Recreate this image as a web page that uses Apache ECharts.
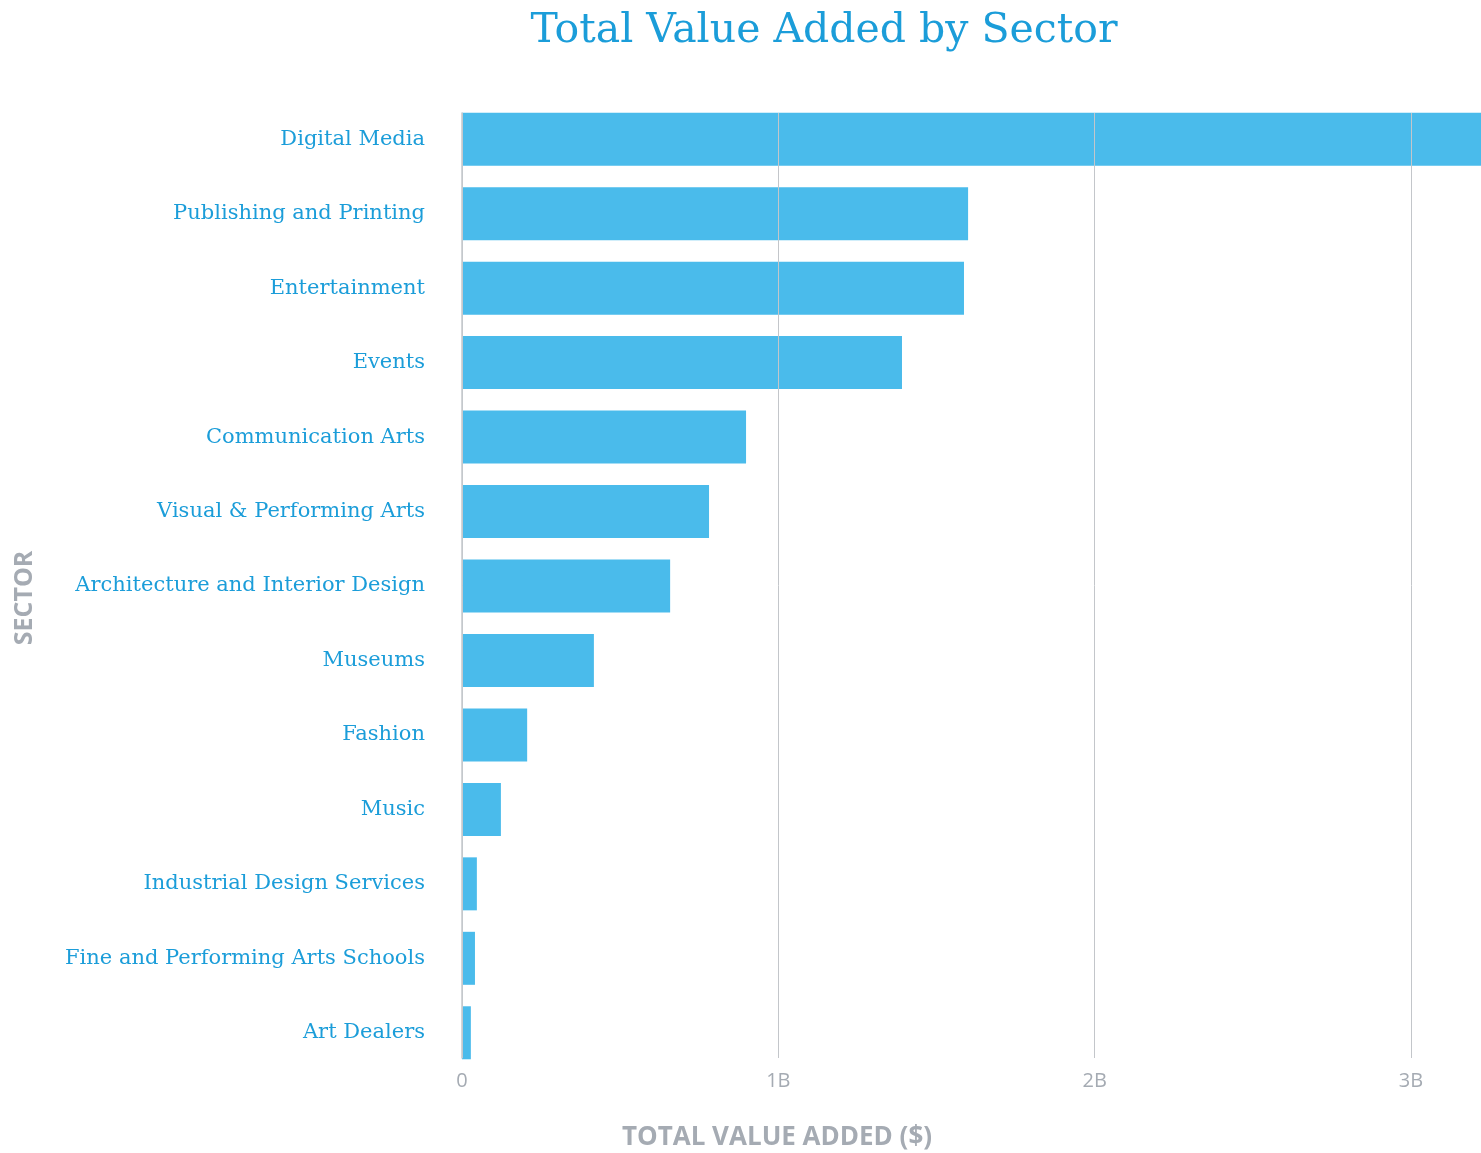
<!DOCTYPE html>
<html>
<head>
<meta charset="utf-8">
<title>Total Value Added by Sector</title>
<script src="https://cdn.jsdelivr.net/npm/echarts@6/dist/echarts.min.js"></script>
<style>
  html, body { margin: 0; padding: 0; background: #ffffff; overflow: hidden; }
  #chart { width: 1481px; height: 1153px; }
</style>
</head>
<body>
<div id="chart"></div>
<script>
// Sectors, top to bottom
const sectors = [
  'Digital Media',
  'Publishing and Printing',
  'Entertainment',
  'Events',
  'Communication Arts',
  'Visual & Performing Arts',
  'Architecture and Interior Design',
  'Museums',
  'Fashion',
  'Music',
  'Industrial Design Services',
  'Fine and Performing Arts Schools',
  'Art Dealers'
];

// Total value added, in dollars
const valueAdded = [
  3.24e9, 1.600e9, 1.587e9, 1.391e9, 0.898e9, 0.781e9, 0.658e9,
  0.417e9, 0.206e9, 0.123e9, 0.047e9, 0.041e9, 0.028e9
];

// Value-axis tick labels
const tickLabels = { 0: '0', 1e9: '1B', 2e9: '2B', 3e9: '3B' };

const xMax = 3.231e9;
const blue = '#1b9dd9';
const barBlue = '#4abbeb';
const grey = '#a5abb3';

const chart = echarts.init(document.getElementById('chart'), null, { renderer: 'canvas' });

chart.setOption({
  animation: false,
  backgroundColor: '#ffffff',
  title: {
    text: 'Total Value Added by Sector',
    left: 819,
    top: 6,
    textAlign: 'center',
    textStyle: {
      fontFamily: 'DejaVu Serif',
      fontWeight: 'normal',
      fontSize: 41,
      color: blue
    }
  },
  grid: [
    // bars, labels and axis names
    { left: 462, right: -3, top: 102, bottom: 83, outerBoundsMode: 'none' },
    // gridlines and the baseline, spanning only the bars
    { left: 462, right: -3, top: 113, bottom: 95, outerBoundsMode: 'none' }
  ],
  xAxis: [{
    type: 'value',
    gridIndex: 0,
    min: 0,
    max: xMax,
    interval: 1e9,
    name: 'TOTAL VALUE ADDED ($)',
    nameLocation: 'middle',
    nameGap: 55,
    nameTextStyle: {
      fontFamily: 'Open Sans',
      fontWeight: 'bold',
      fontSize: 26,
      color: grey,
      padding: [0, 392, 0, 0]
    },
    axisLine: { show: false },
    axisTick: { show: false },
    axisLabel: {
      margin: 1,
      fontFamily: 'Open Sans',
      fontSize: 20,
      color: grey,
      formatter: v => tickLabels[v] !== undefined ? tickLabels[v] : ''
    },
    splitLine: { show: false }
  }, {
    type: 'value',
    gridIndex: 1,
    min: 0,
    max: xMax,
    interval: 1e9,
    z: 3,
    axisLine: { show: false },
    axisTick: { show: false },
    axisLabel: { show: false },
    splitLine: {
      show: true,
      lineStyle: { color: '#c3c6ca', width: 1 }
    }
  }],
  yAxis: [{
    type: 'category',
    gridIndex: 0,
    inverse: true,
    data: sectors,
    name: 'SECTOR',
    nameLocation: 'middle',
    nameRotate: 90,
    nameGap: 425,
    nameTextStyle: {
      fontFamily: 'Open Sans',
      fontWeight: 'bold',
      fontSize: 25,
      color: grey,
      padding: [0, 24, 0, 0]
    },
    axisLine: { show: false },
    axisTick: { show: false },
    axisLabel: {
      margin: 37,
      fontFamily: 'DejaVu Serif',
      fontSize: 21,
      color: blue,
      padding: [8, 0, 0, 0]
    },
    splitLine: { show: false }
  }, {
    type: 'category',
    gridIndex: 1,
    inverse: true,
    data: sectors,
    z: 3,
    axisLine: { show: true, lineStyle: { color: '#c4c8cc', width: 1.5 } },
    axisTick: { show: false },
    axisLabel: { show: false },
    splitLine: { show: false }
  }],
  series: [{
    type: 'bar',
    xAxisIndex: 0,
    yAxisIndex: 0,
    data: valueAdded,
    barWidth: 53,
    clip: true,
    itemStyle: { color: barBlue },
    emphasis: { disabled: true }
  }]
});
</script>
</body>
</html>
